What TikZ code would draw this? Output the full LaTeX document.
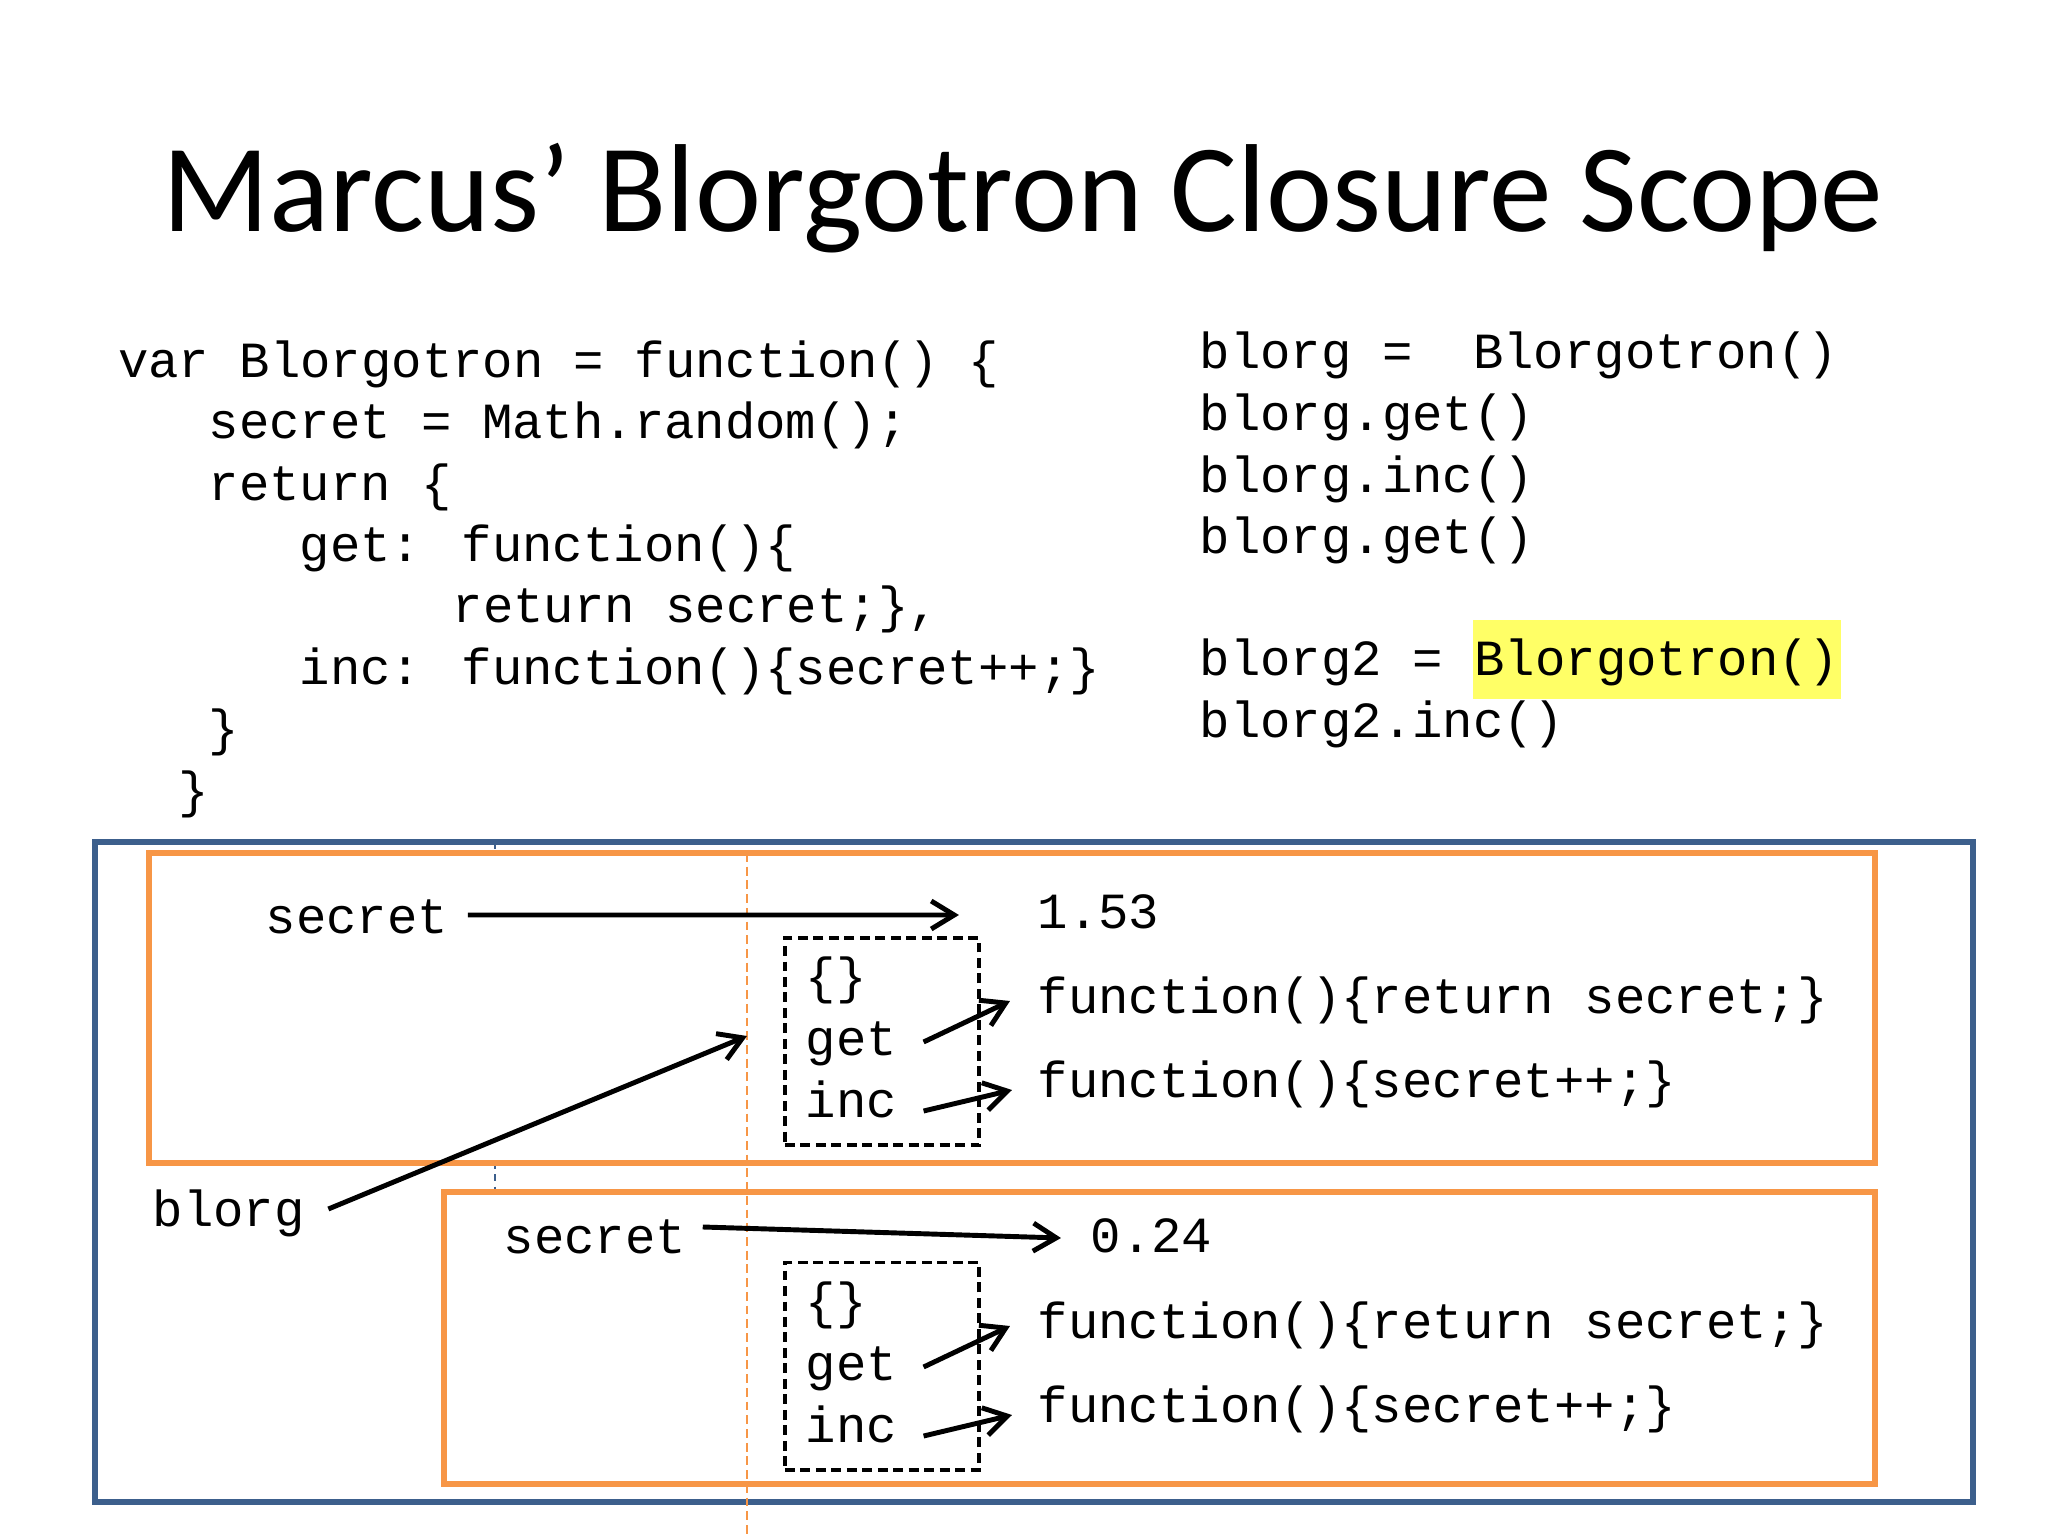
\documentclass[tikz,border=0pt]{standalone}
\usepackage{fontspec}
\setmainfont{Carlito}
\newfontfamily\codefont{Liberation Mono}
\usetikzlibrary{arrows.meta,positioning}
\definecolor{scopeblue}{HTML}{3C5F8C}
\definecolor{scopeorange}{HTML}{F79646}
\definecolor{hlyellow}{HTML}{FFFF66}
\begin{document}
\begin{tikzpicture}[x=0.01cm,y=-0.01cm,
  codeline/.style={font=\codefont\fontsize{14.4pt}{17pt}\selectfont, anchor=base west, inner sep=0pt},
  ptr/.style={-{Straight Barb[length=2.3mm,width=2.8mm]}, line width=1.4pt},
  scopebox/.style={draw=scopeorange, line width=1.7pt, fill=white},
  objbox/.style={draw, dash pattern=on 2.8pt off 1.6pt, line width=1.1pt, minimum width=1.94cm, minimum height=2.07cm, inner sep=0pt}]
\useasboundingbox (0,0) rectangle (2048,1536);

% title
\node[font=\fontsize{35.6pt}{42pt}\selectfont, anchor=base, inner sep=0pt] (title) at (1023,231) {Marcus’ Blorgotron Closure Scope};

% definition
\node[codeline] (c1) at (117.5,377) {var Blorgotron = function() \{};
\node[codeline] (c2) at (208,438) {secret = Math.random();};
\node[codeline] (c3) at (208,500) {return \{};
\node[codeline] (c4) at (299,561) {get: function()\{};
\node[codeline] (c5) at (452,622) {return secret;\},};
\node[codeline] (c6) at (299,684) {inc: function()\{secret++;\}};
\node[codeline] (c7) at (208,745) {\}};
\node[codeline] (c8) at (178,807) {\}};

% calls
\node[codeline] (r1) at (1199,368) {blorg =\ \ Blorgotron()};
\node[codeline] (r2) at (1199,430) {blorg.get()};
\node[codeline] (r3) at (1199,492) {blorg.inc()};
\node[codeline] (r4) at (1199,553) {blorg.get()};
\node[codeline] (r5) at (1199,675) {blorg2 =};
\node[codeline, fill=hlyellow, inner xsep=0.02cm, text height=0.55cm, text depth=0.24cm,
  base right=0.283cm of r5] (hl) {Blorgotron()};
\node[codeline] (r6) at (1199,737) {blorg2.inc()};

% scopes
\draw[scopeblue, line width=0.5pt, dash pattern=on 2pt off 1.5pt] (495,842) -- (495,1192);
\draw[scopeblue, line width=1.7pt] (95,842) rectangle (1973,1502);
\draw[scopebox] (149,853) rectangle (1875,1163);
\draw[scopebox] (444,1192) rectangle (1875,1484);
\draw[scopeorange, line width=0.7pt, dash pattern=on 2.5pt off 1.4pt] (747,853) -- (747,1536);

% first closure
\node[codeline] (sec1) at (265,933) {secret};
\node[codeline] (val1) at (1037,928) {1.53};
\node[objbox] (obj1) at (882,1041.5) {};
\node[codeline] (brace1) at (805,993) {\{\}};
\node[codeline] (get1) at (805,1055) {get};
\node[codeline] (inc1) at (805,1117) {inc};
\node[codeline] (fun1a) at (1037,1013) {function()\{return secret;\}};
\node[codeline] (fun1b) at (1037,1097) {function()\{secret++;\}};

% second closure
\node[codeline] (sec2) at (503,1253) {secret};
\node[codeline] (val2) at (1090,1252) {0.24};
\node[objbox] (obj2) at (882,1366) {};
\node[codeline] (brace2) at (805,1318) {\{\}};
\node[codeline] (get2) at (805,1380) {get};
\node[codeline] (inc2) at (805,1442) {inc};
\node[codeline] (fun2a) at (1037,1338) {function()\{return secret;\}};
\node[codeline] (fun2b) at (1037,1422) {function()\{secret++;\}};

\node[codeline] (blorg) at (152,1226) {blorg};
\coordinate (ref1) at (747,1036);

\draw[ptr] ([xshift=0.19cm,yshift=0.18cm]sec1.base east) -- ([xshift=-0.78cm,yshift=0.13cm]val1.base west);
\draw[ptr] ([xshift=0.26cm,yshift=0.13cm]get1.base east) -- ([xshift=-0.27cm,yshift=0.12cm]fun1a.base west);
\draw[ptr] ([xshift=0.26cm,yshift=0.06cm]inc1.base east) -- ([xshift=-0.25cm,yshift=0.07cm]fun1b.base west);
\draw[ptr] ([xshift=0.16cm,yshift=0.26cm]sec2.base east) -- ([xshift=-0.29cm,yshift=0.14cm]val2.base west);
\draw[ptr] ([xshift=0.26cm,yshift=0.13cm]get2.base east) -- ([xshift=-0.27cm,yshift=0.12cm]fun2a.base west);
\draw[ptr] ([xshift=0.26cm,yshift=0.06cm]inc2.base east) -- ([xshift=-0.25cm,yshift=0.07cm]fun2b.base west);
\draw[ptr] ([xshift=0.23cm,yshift=0.17cm]blorg.base east) -- (ref1);
\end{tikzpicture}
\end{document}
